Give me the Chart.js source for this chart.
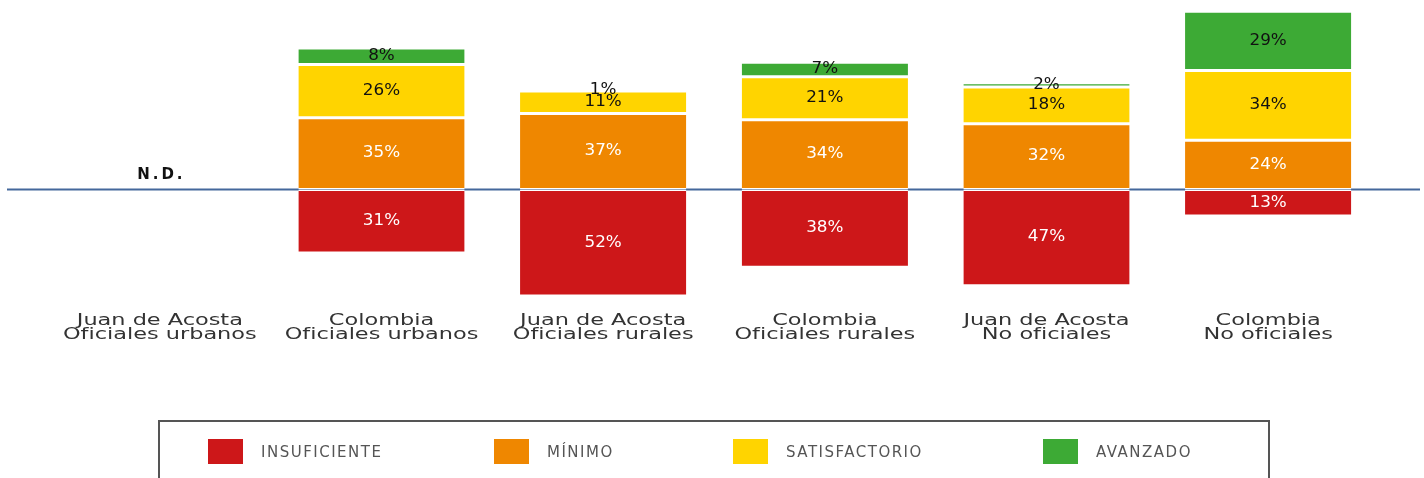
<!DOCTYPE html>
<html lang="es">
<head>
<meta charset="utf-8">
<title>Niveles de desempeño</title>
<script src="https://cdn.jsdelivr.net/npm/chart.js@4.4.1/dist/chart.umd.min.js"></script>
<style>
  html, body { margin: 0; padding: 0; background: #fff; }
  #wrap { position: relative; width: 1424px; height: 478px; overflow: hidden; }
  #chart { position: absolute; left: 0; top: 0; }
  #legend {
    position: absolute; left: 158px; top: 420px; width: 1112px; height: 100px;
    box-sizing: border-box; border: 2px solid #555;
  }
  .legend-item {
    position: absolute; top: 17px; display: flex; align-items: center;
    font: 15px "DejaVu Sans", sans-serif; letter-spacing: 1.5px; color: #555;
  }
  .legend-item .sw { width: 35px; height: 25px; margin-right: 18px; }
</style>
</head>
<body>
<div id="wrap">
  <canvas id="chart" width="1424" height="478"></canvas>
  <div id="legend"></div>
</div>
<script>
"use strict";

// categorías (dos líneas por etiqueta)
const CATEGORIES = [
  ["Juan de Acosta", "Oficiales urbanos"],
  ["Colombia", "Oficiales urbanos"],
  ["Juan de Acosta", "Oficiales rurales"],
  ["Colombia", "Oficiales rurales"],
  ["Juan de Acosta", "No oficiales"],
  ["Colombia", "No oficiales"],
];

// porcentajes por nivel (null = N.D.)
const INSUFICIENTE = [null, 31, 52, 38, 47, 13];
const MINIMO = [null, 35, 37, 34, 32, 24];
const SATISFACTORIO = [null, 26, 11, 21, 18, 34];
const AVANZADO = [null, 8, 1, 7, 2, 29];

const LEVEL_NAMES = ["INSUFICIENTE", "MÍNIMO", "SATISFACTORIO", "AVANZADO"];
const LEVEL_COLORS = ["#CD1719", "#EF8700", "#FFD400", "#3DAA35"];
const LABEL_COLORS = ["#fff", "#fff", "#111", "#111"];

// posición horizontal de cada entrada de la leyenda dentro del recuadro
const LEGEND_LEFT = [48, 334, 573, 883];

const FONT = "'DejaVu Sans', sans-serif";

// Insuficiente va hacia abajo del eje
const datasets = [INSUFICIENTE, MINIMO, SATISFACTORIO, AVANZADO].map((vals, i) => ({
  label: LEVEL_NAMES[i],
  data: i === 0 ? vals.map((v) => (v == null ? null : -v)) : vals,
  backgroundColor: LEVEL_COLORS[i],
  borderColor: "#fff",
  borderWidth: { top: 1.5, bottom: 1.5, left: 0, right: 0 },
  borderSkipped: false,
  labelColor: LABEL_COLORS[i],
}));

// el original tiene el texto ensanchado horizontalmente
function fillStretched(ctx, text, x, y, sx) {
  ctx.save();
  ctx.translate(x, y);
  ctx.scale(sx, 1);
  ctx.fillText(text, 0, 0);
  ctx.restore();
}

// línea del cero, más ancha que el área de las barras
const zeroLine = {
  id: "zeroLine",
  beforeDatasetsDraw(chart) {
    const ctx = chart.ctx;
    const y = chart.scales.y.getPixelForValue(0);
    ctx.save();
    ctx.strokeStyle = "#44689c";
    ctx.lineWidth = 2;
    ctx.beginPath();
    ctx.moveTo(7, y);
    ctx.lineTo(chart.width - 4, y);
    ctx.stroke();
    ctx.restore();
  },
};

// etiquetas de categoría bajo el área del gráfico
const categoryLabels = {
  id: "categoryLabels",
  afterDraw(chart) {
    const ctx = chart.ctx;
    const xs = chart.scales.x;
    const bottom = chart.chartArea.bottom;
    ctx.save();
    ctx.font = "16px " + FONT;
    ctx.fillStyle = "#333";
    ctx.textAlign = "center";
    ctx.textBaseline = "alphabetic";
    CATEGORIES.forEach((lines, j) => {
      const x = xs.getPixelForValue(j);
      lines.forEach((line, k) => {
        fillStretched(ctx, line, x, bottom + 25 + k * 14, 1.4);
      });
    });
    ctx.restore();
  },
};

// porcentajes dentro de cada segmento + "N.D." donde no hay datos
const valueLabels = {
  id: "valueLabels",
  afterDatasetsDraw(chart) {
    const ctx = chart.ctx;
    ctx.save();
    ctx.textAlign = "center";
    ctx.textBaseline = "middle";
    ctx.font = "15px " + FONT;
    chart.data.datasets.forEach((ds, i) => {
      chart.getDatasetMeta(i).data.forEach((bar, j) => {
        const v = ds.data[j];
        if (v == null) return;
        const p = bar.getCenterPoint();
        ctx.fillStyle = ds.labelColor;
        fillStretched(ctx, Math.abs(v) + "%", p.x, p.y, 1.12);
      });
    });

    const zeroY = chart.scales.y.getPixelForValue(0);
    ctx.font = "bold 15px " + FONT;
    ctx.letterSpacing = "3px";
    ctx.fillStyle = "#111";
    ctx.textBaseline = "alphabetic";
    CATEGORIES.forEach((c, j) => {
      const empty = chart.data.datasets.every((ds) => ds.data[j] == null);
      if (!empty) return;
      ctx.fillText("N.D.", chart.scales.x.getPixelForValue(j) + 1.5, zeroY - 10);
    });
    ctx.restore();
  },
};

new Chart(document.getElementById("chart"), {
  type: "bar",
  data: { labels: CATEGORIES, datasets },
  plugins: [zeroLine, valueLabels, categoryLabels],
  options: {
    responsive: false,
    animation: false,
    layout: { padding: { left: 49, right: 45, top: 5, bottom: 178 } },
    datasets: { bar: { barPercentage: 0.75, categoryPercentage: 1 } },
    plugins: { legend: { display: false }, tooltip: { enabled: false } },
    scales: {
      x: {
        stacked: true,
        grid: { display: false, drawTicks: false },
        border: { display: false },
        ticks: { display: false },
      },
      y: { stacked: true, display: false, min: -54, max: 90 },
    },
  },
});

// leyenda en HTML con recuadro
document.getElementById("legend").innerHTML = LEVEL_NAMES.map(
  (name, i) =>
    `<div class="legend-item" style="left:${LEGEND_LEFT[i]}px"><span class="sw" style="background:${LEVEL_COLORS[i]}"></span>${name}</div>`
).join("");
</script>
</body>
</html>
